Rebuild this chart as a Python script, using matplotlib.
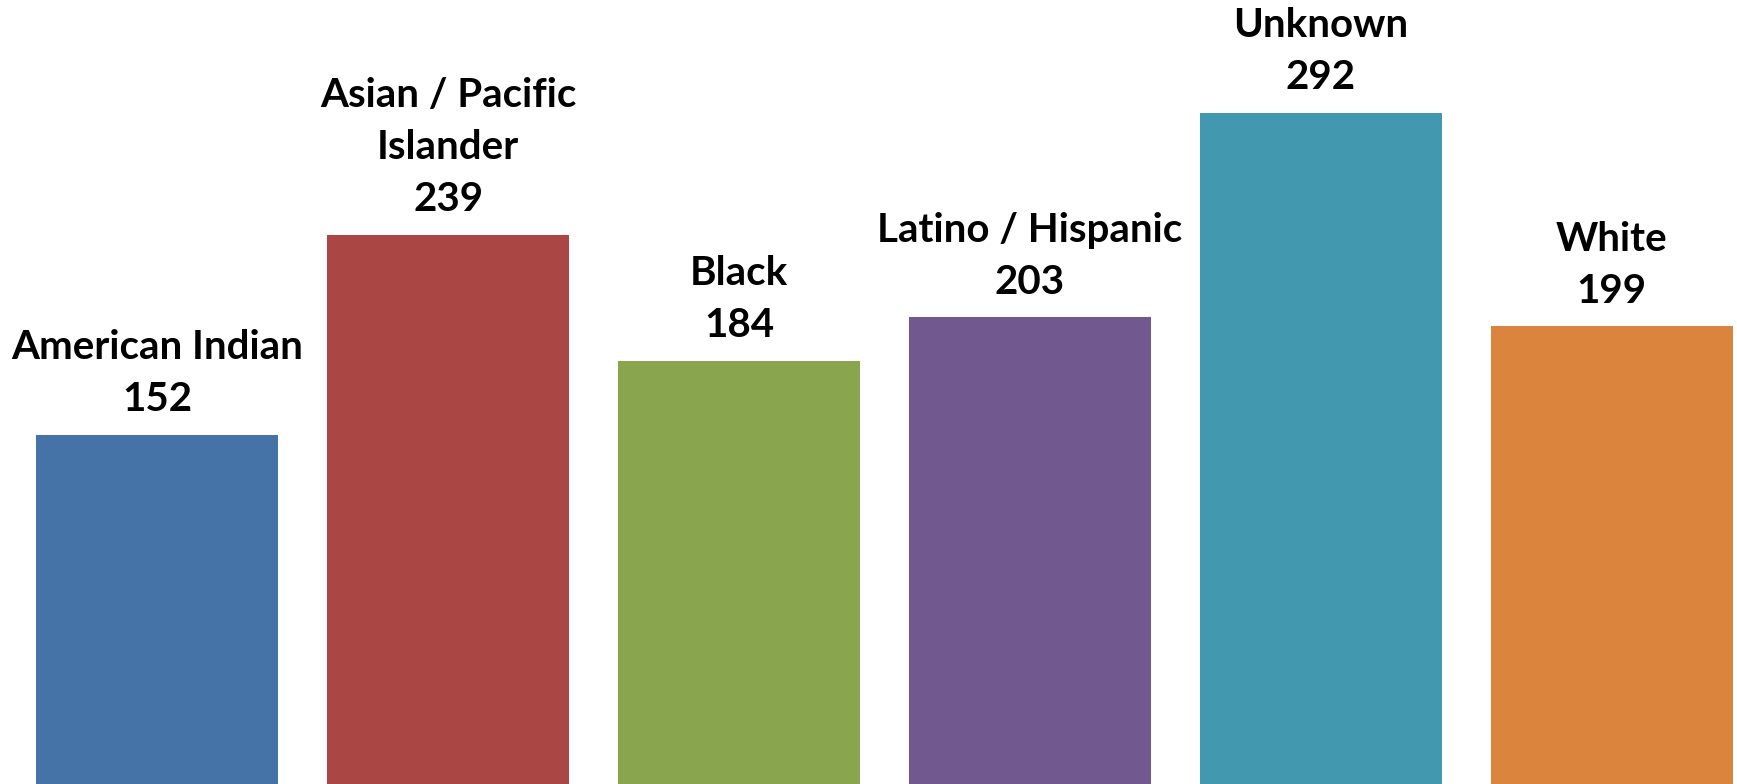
import numpy as np
import matplotlib.pyplot as plt

categories = ['American Indian', 'Asian / Pacific\nIslander', 'Black',
              'Latino / Hispanic', 'Unknown', 'White']
values = [152, 239, 184, 203, 292, 199]
colors = ['#4572A7', '#AA4643', '#89A54E', '#71588F', '#4198AF', '#DB843D']

if __name__ == '__main__':
    plt.rcParams['font.family'] = ['Lato', 'DejaVu Sans']
    fig = plt.figure(figsize=(17.37, 7.84), dpi=100)
    ax = fig.add_axes([0, 0, 1, 1])
    x = np.arange(len(values))
    ax.bar(x, values, width=0.83, color=colors)
    for xi, v, c in zip(x, values, categories):
        ax.annotate(f'{c}\n{v}', (xi, v), xytext=(0, 12), textcoords='offset points',
                    ha='center', va='bottom', fontsize=29, fontweight='bold',
                    linespacing=1.5, multialignment='center')
    ax.set_xlim(-0.54, 5.43)
    ax.set_ylim(0, 341)
    ax.axis('off')
    fig.savefig('out.png', dpi=100)
